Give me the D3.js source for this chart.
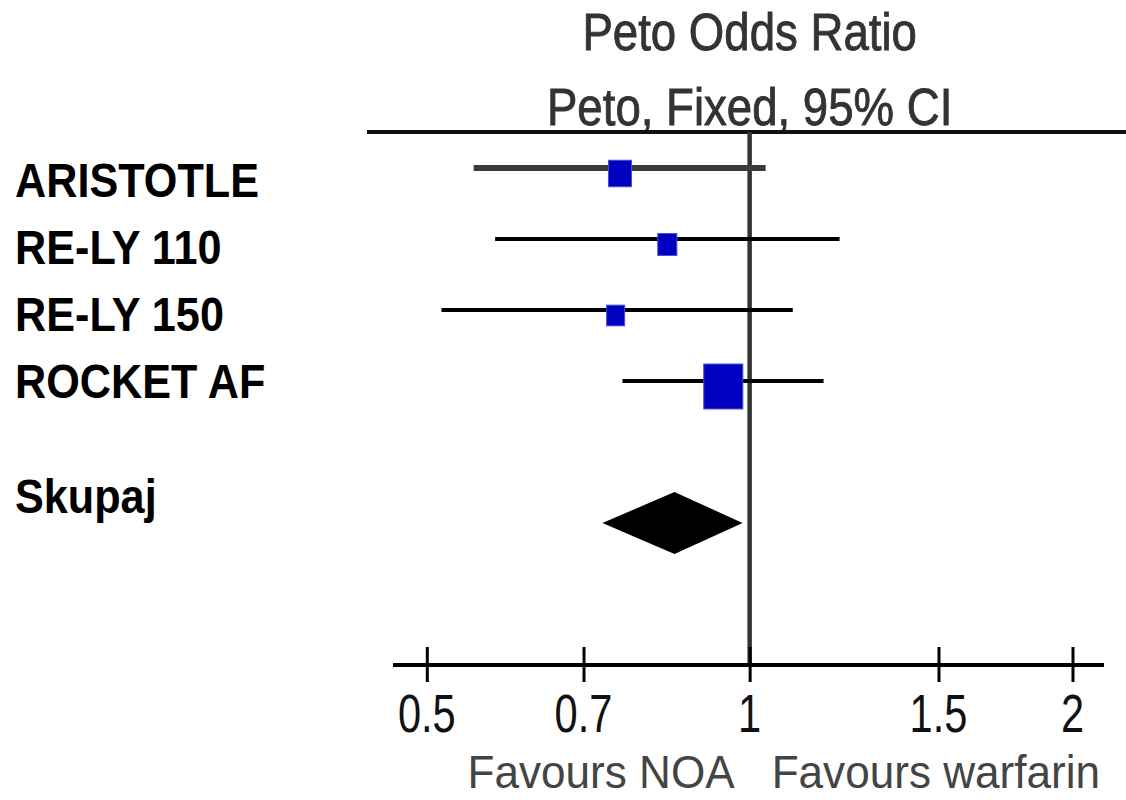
<!DOCTYPE html>
<html>
<head>
<meta charset="utf-8">
<script src="https://cdn.jsdelivr.net/npm/d3@7"></script>
<style>
	body { margin: 0; background: #fff; }
	svg { display: block; font-family: "Liberation Sans", Arial, sans-serif; }
</style>
</head>
<body>
<div id="forest"></div>
<script>
// study data
var studies = ["ARISTOTLE", "RE-LY 110", "RE-LY 150", "ROCKET AF"];
var oddsRatio = [0.757, 0.838, 0.750, 0.945];
var lowerCI = [0.553, 0.579, 0.516, 0.761];
var upperCI = [1.035, 1.213, 1.097, 1.172];
var weights = [19.3, 13.2, 11.8, 55.6];

// pooled estimate
var totalLabel = "Skupaj";
var totalOR = [0.851, 0.729, 0.985]; // estimate, lower, upper

// axis ticks
var tickValues = [0.5, 0.7, 1, 1.5, 2];
var axisDomain = [0.465, 2.14];

var width = 1126, height = 800;

var svg = d3.select("#forest").append("svg")
	.attr("width", width)
	.attr("height", height);

// scales
var x = d3.scaleLog()
	.domain(axisDomain)
	.range([393, 1104]);

var yRow = d3.scaleLinear()
	.domain([0, 1])
	.range([168, 239]);

var yLabel = d3.scaleLinear()
	.domain([0, 1])
	.range([197, 264]);

var boxSize = d3.scaleSqrt()
	.domain([0, 100])
	.range([0, 52.4]);

// condensed text helper
function addText(px, py, str, size, sx, sy, anchor, weight, color) {
	return svg.append("text")
		.attr("transform", "translate(" + px + "," + py + ") scale(" + sx + "," + sy + ")")
		.attr("text-anchor", anchor)
		.attr("font-size", size + "px")
		.attr("font-weight", weight)
		.attr("fill", color)
		.text(str);
}

// header
addText(x(1), 50, "Peto Odds Ratio", 48, 0.95, 1.08, "middle", "normal", "#333")
	.attr("stroke", "#333").attr("stroke-width", 0.8);
addText(x(1), 125, "Peto, Fixed, 95% CI", 48, 0.95, 1.08, "middle", "normal", "#333")
	.attr("stroke", "#333").attr("stroke-width", 0.8);

svg.append("line")
	.attr("x1", 367).attr("x2", width)
	.attr("y1", 132).attr("y2", 132)
	.attr("stroke", "#111")
	.attr("stroke-width", 4);

// line of no effect
svg.append("line")
	.attr("x1", x(1)).attr("x2", x(1))
	.attr("y1", 132).attr("y2", yRow(7))
	.attr("stroke", "#333")
	.attr("stroke-width", 4.5);

// study labels
studies.forEach(function(s, i){
	addText(15, yLabel(i), s, 45, 0.96, 1.06, "start", "bold", "#000");
});
addText(15, yRow(5) - 10, totalLabel, 45, 0.96, 1.06, "start", "bold", "#000");

// confidence intervals
studies.forEach(function(s, i){
	svg.append("line")
		.attr("x1", x(lowerCI[i])).attr("x2", x(upperCI[i]))
		.attr("y1", yRow(i)).attr("y2", yRow(i))
		.attr("stroke", i == 0 ? "#3a3a3a" : "#000")
		.attr("stroke-width", i == 0 ? 6 : 4);
});

// weighted boxes
studies.forEach(function(s, i){
	var w = boxSize(weights[i]);
	var h = w * 1.15;
	svg.append("rect")
		.attr("x", x(oddsRatio[i]) - w / 2)
		.attr("y", yRow(i) + 5.5 - h / 2)
		.attr("width", w)
		.attr("height", h)
		.attr("fill", "#0000c0")
		.attr("stroke", "#4a4ad8")
		.attr("stroke-width", 1);
});

// pooled diamond
var dy = yRow(5);
svg.append("path")
	.attr("d", "M" + x(totalOR[1]) + "," + dy +
		"L" + x(totalOR[0]) + "," + (dy - 31) +
		"L" + x(totalOR[2]) + "," + dy +
		"L" + x(totalOR[0]) + "," + (dy + 31) + "Z")
	.attr("fill", "#000");

// x axis
var axisY = yRow(7);
var xAxisCall = d3.axisBottom(x)
	.tickValues(tickValues)
	.tickSize(17)
	.tickFormat(function(d){ return d; });

var xAxis = svg.append("g")
	.attr("class", "x-axis")
	.attr("transform", "translate(0," + axisY + ")")
	.call(xAxisCall);

xAxis.select(".domain").remove();
xAxis.selectAll(".tick text").remove();
xAxis.selectAll(".tick line")
	.attr("y1", -18)
	.attr("stroke", "#000")
	.attr("stroke-width", 3);

svg.append("line")
	.attr("x1", x(axisDomain[0])).attr("x2", x(axisDomain[1]))
	.attr("y1", axisY).attr("y2", axisY)
	.attr("stroke", "#000")
	.attr("stroke-width", 4);

tickValues.forEach(function(t){
	addText(x(t), 732, t, 52, 0.8, 1.04, "middle", "normal", "#111");
});

// favours labels
addText(x(1) - 15, 788, "Favours NOA", 45, 0.98, 1.04, "end", "normal", "#444");
addText(x(1) + 22, 788, "Favours warfarin", 45, 0.98, 1.04, "start", "normal", "#444");
</script>
</body>
</html>
